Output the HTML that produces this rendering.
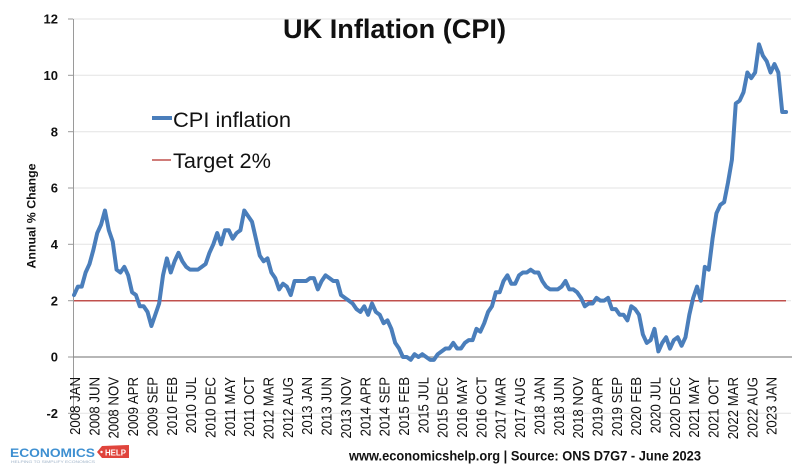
<!DOCTYPE html>
<html><head><meta charset="utf-8"><style>
html,body{margin:0;padding:0;background:#fff;}
svg{display:block;}
text{font-family:"Liberation Sans",Arial,sans-serif;}
</style></head><body>
<svg width="800" height="465" viewBox="0 0 800 465" xmlns="http://www.w3.org/2000/svg">
<rect width="800" height="465" fill="#fff"/>
<!-- gridlines -->
<g stroke="#e3e3e3" stroke-width="1">
<line x1="73" y1="19" x2="791" y2="19"/>
<line x1="73" y1="75.3" x2="791" y2="75.3"/>
<line x1="73" y1="131.7" x2="791" y2="131.7"/>
<line x1="73" y1="188" x2="791" y2="188"/>
<line x1="73" y1="244.3" x2="791" y2="244.3"/>
<line x1="73" y1="300.7" x2="791" y2="300.7"/>
<line x1="73" y1="413.3" x2="791" y2="413.3"/>
</g>
<!-- ticks -->
<g stroke="#9a9a9a" stroke-width="1">
<line x1="68" y1="19" x2="73" y2="19"/>
<line x1="68" y1="75.3" x2="73" y2="75.3"/>
<line x1="68" y1="131.7" x2="73" y2="131.7"/>
<line x1="68" y1="188" x2="73" y2="188"/>
<line x1="68" y1="244.3" x2="73" y2="244.3"/>
<line x1="68" y1="300.7" x2="73" y2="300.7"/>
<line x1="68" y1="357" x2="73" y2="357"/>
<line x1="68" y1="413.3" x2="73" y2="413.3"/>
<line x1="73.5" y1="19" x2="73.5" y2="413.3"/>
</g>
<line x1="73" y1="357" x2="792" y2="357" stroke="#8c8c8c" stroke-width="1.2"/>
<!-- y tick labels -->
<g font-size="13" font-weight="bold" fill="#111" text-anchor="end">
<text x="58" y="23.7">12</text>
<text x="58" y="80">10</text>
<text x="58" y="136.4">8</text>
<text x="58" y="192.7">6</text>
<text x="58" y="249">4</text>
<text x="58" y="305.4">2</text>
<text x="58" y="361.7">0</text>
<text x="58" y="418">-2</text>
</g>
<!-- y axis title -->
<text transform="translate(35.5,216) rotate(-90)" text-anchor="middle" font-size="12" font-weight="bold" fill="#111" textLength="105" lengthAdjust="spacingAndGlyphs">Annual % Change</text>
<!-- target line -->
<line x1="74" y1="300.7" x2="786" y2="300.7" stroke="#c0504d" stroke-width="1.5"/>
<!-- CPI series -->
<polyline transform="translate(74,357) scale(3.87,-28.167)" fill="none" stroke="#4a7ebb" stroke-width="4" stroke-linejoin="round" stroke-linecap="round" vector-effect="non-scaling-stroke" points="0,2.2 1,2.5 2,2.5 3,3.0 4,3.3 5,3.8 6,4.4 7,4.7 8,5.2 9,4.5 10,4.1 11,3.1 12,3.0 13,3.2 14,2.9 15,2.3 16,2.2 17,1.8 18,1.8 19,1.6 20,1.1 21,1.5 22,1.9 23,2.9 24,3.5 25,3.0 26,3.4 27,3.7 28,3.4 29,3.2 30,3.1 31,3.1 32,3.1 33,3.2 34,3.3 35,3.7 36,4.0 37,4.4 38,4.0 39,4.5 40,4.5 41,4.2 42,4.4 43,4.5 44,5.2 45,5.0 46,4.8 47,4.2 48,3.6 49,3.4 50,3.5 51,3.0 52,2.8 53,2.4 54,2.6 55,2.5 56,2.2 57,2.7 58,2.7 59,2.7 60,2.7 61,2.8 62,2.8 63,2.4 64,2.7 65,2.9 66,2.8 67,2.7 68,2.7 69,2.2 70,2.1 71,2.0 72,1.9 73,1.7 74,1.6 75,1.8 76,1.5 77,1.9 78,1.6 79,1.5 80,1.2 81,1.3 82,1.0 83,0.5 84,0.3 85,0.0 86,0.0 87,-0.1 88,0.1 89,0.0 90,0.1 91,0.0 92,-0.1 93,-0.1 94,0.1 95,0.2 96,0.3 97,0.3 98,0.5 99,0.3 100,0.3 101,0.5 102,0.6 103,0.6 104,1.0 105,0.9 106,1.2 107,1.6 108,1.8 109,2.3 110,2.3 111,2.7 112,2.9 113,2.6 114,2.6 115,2.9 116,3.0 117,3.0 118,3.1 119,3.0 120,3.0 121,2.7 122,2.5 123,2.4 124,2.4 125,2.4 126,2.5 127,2.7 128,2.4 129,2.4 130,2.3 131,2.1 132,1.8 133,1.9 134,1.9 135,2.1 136,2.0 137,2.0 138,2.1 139,1.7 140,1.7 141,1.5 142,1.5 143,1.3 144,1.8 145,1.7 146,1.5 147,0.8 148,0.5 149,0.6 150,1.0 151,0.2 152,0.5 153,0.7 154,0.3 155,0.6 156,0.7 157,0.4 158,0.7 159,1.5 160,2.1 161,2.5 162,2.0 163,3.2 164,3.1 165,4.2 166,5.1 167,5.4 168,5.5 169,6.2 170,7.0 171,9.0 172,9.1 173,9.4 174,10.1 175,9.9 176,10.1 177,11.1 178,10.7 179,10.5 180,10.1 181,10.4 182,10.1 183,8.7 184,8.7"/>
<!-- x labels -->
<g font-size="15" fill="#111" text-anchor="end">
<text transform="translate(80,377) rotate(-90) scale(0.88,1)">2008 JAN</text>
<text transform="translate(99.35,377) rotate(-90) scale(0.88,1)">2008 JUN</text>
<text transform="translate(118.7,377) rotate(-90) scale(0.88,1)">2008 NOV</text>
<text transform="translate(138.05,377) rotate(-90) scale(0.88,1)">2009 APR</text>
<text transform="translate(157.4,377) rotate(-90) scale(0.88,1)">2009 SEP</text>
<text transform="translate(176.75,377) rotate(-90) scale(0.88,1)">2010 FEB</text>
<text transform="translate(196.1,377) rotate(-90) scale(0.88,1)">2010 JUL</text>
<text transform="translate(215.45,377) rotate(-90) scale(0.88,1)">2010 DEC</text>
<text transform="translate(234.8,377) rotate(-90) scale(0.88,1)">2011 MAY</text>
<text transform="translate(254.15,377) rotate(-90) scale(0.88,1)">2011 OCT</text>
<text transform="translate(273.5,377) rotate(-90) scale(0.88,1)">2012 MAR</text>
<text transform="translate(292.85,377) rotate(-90) scale(0.88,1)">2012 AUG</text>
<text transform="translate(312.2,377) rotate(-90) scale(0.88,1)">2013 JAN</text>
<text transform="translate(331.55,377) rotate(-90) scale(0.88,1)">2013 JUN</text>
<text transform="translate(350.9,377) rotate(-90) scale(0.88,1)">2013 NOV</text>
<text transform="translate(370.25,377) rotate(-90) scale(0.88,1)">2014 APR</text>
<text transform="translate(389.6,377) rotate(-90) scale(0.88,1)">2014 SEP</text>
<text transform="translate(408.95,377) rotate(-90) scale(0.88,1)">2015 FEB</text>
<text transform="translate(428.3,377) rotate(-90) scale(0.88,1)">2015 JUL</text>
<text transform="translate(447.65,377) rotate(-90) scale(0.88,1)">2015 DEC</text>
<text transform="translate(467,377) rotate(-90) scale(0.88,1)">2016 MAY</text>
<text transform="translate(486.35,377) rotate(-90) scale(0.88,1)">2016 OCT</text>
<text transform="translate(505.7,377) rotate(-90) scale(0.88,1)">2017 MAR</text>
<text transform="translate(525.05,377) rotate(-90) scale(0.88,1)">2017 AUG</text>
<text transform="translate(544.4,377) rotate(-90) scale(0.88,1)">2018 JAN</text>
<text transform="translate(563.75,377) rotate(-90) scale(0.88,1)">2018 JUN</text>
<text transform="translate(583.1,377) rotate(-90) scale(0.88,1)">2018 NOV</text>
<text transform="translate(602.45,377) rotate(-90) scale(0.88,1)">2019 APR</text>
<text transform="translate(621.8,377) rotate(-90) scale(0.88,1)">2019 SEP</text>
<text transform="translate(641.15,377) rotate(-90) scale(0.88,1)">2020 FEB</text>
<text transform="translate(660.5,377) rotate(-90) scale(0.88,1)">2020 JUL</text>
<text transform="translate(679.85,377) rotate(-90) scale(0.88,1)">2020 DEC</text>
<text transform="translate(699.2,377) rotate(-90) scale(0.88,1)">2021 MAY</text>
<text transform="translate(718.55,377) rotate(-90) scale(0.88,1)">2021 OCT</text>
<text transform="translate(737.9,377) rotate(-90) scale(0.88,1)">2022 MAR</text>
<text transform="translate(757.25,377) rotate(-90) scale(0.88,1)">2022 AUG</text>
<text transform="translate(776.6,377) rotate(-90) scale(0.88,1)">2023 JAN</text>
</g>
<!-- title -->
<text x="283" y="38" font-size="27" font-weight="bold" fill="#111" textLength="223" lengthAdjust="spacingAndGlyphs">UK Inflation (CPI)</text>
<!-- legend -->
<line x1="152" y1="118" x2="172" y2="118" stroke="#4a7ebb" stroke-width="4"/>
<text x="173" y="127" font-size="21" fill="#111" textLength="118" lengthAdjust="spacingAndGlyphs">CPI inflation</text>
<line x1="152" y1="160" x2="171" y2="160" stroke="#c0504d" stroke-width="1.5"/>
<text x="173" y="168" font-size="21" fill="#111" textLength="98" lengthAdjust="spacingAndGlyphs">Target 2%</text>
<!-- footer -->
<text x="349" y="460.5" font-size="14" font-weight="bold" fill="#111" textLength="352" lengthAdjust="spacingAndGlyphs">www.economicshelp.org | Source: ONS D7G7 - June 2023</text>
<!-- logo -->
<text x="10" y="457" font-size="12" font-weight="bold" fill="#3d8fd1" textLength="85" lengthAdjust="spacingAndGlyphs">ECONOMICS</text>
<polygon points="97,452 102,446 129,445 129,458 102,458" fill="#e0443c"/>
<circle cx="101.5" cy="452" r="1.2" fill="#fff"/>
<text x="105" y="455.5" font-size="8" font-weight="bold" fill="#fff" textLength="21" lengthAdjust="spacingAndGlyphs">HELP</text>
<text x="11" y="463" font-size="4" fill="#9fb3c8" textLength="84" lengthAdjust="spacingAndGlyphs">HELPING TO SIMPLIFY ECONOMICS</text>
</svg>
</body></html>
